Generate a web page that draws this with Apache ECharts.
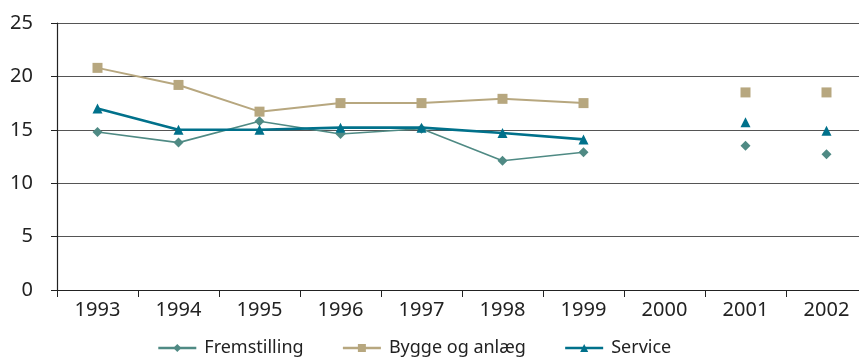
<!DOCTYPE html>
<html>
<head>
<meta charset="utf-8">
<script src="https://cdn.jsdelivr.net/npm/echarts@6/dist/echarts.min.js"></script>
<style>
  html, body { margin: 0; padding: 0; background: #fff; overflow: hidden; }
  /* the plot area runs slightly past the right edge of the page */
  #chart { width: 867px; height: 359px; }
</style>
</head>
<body>
<div id="chart"></div>
<script>
// Years on the category axis
const years = ['1993', '1994', '1995', '1996', '1997', '1998', '1999', '2000', '2001', '2002'];

// Connected yearly values 1993-1999 (2000 has no data)
const fremstilling = [14.8, 13.8, 15.8, 14.6, 15.1, 12.1, 12.9, null, null, null];
const byggeOgAnlaeg = [20.8, 19.2, 16.7, 17.5, 17.5, 17.9, 17.5, null, null, null];
const service = [17.0, 15.0, 15.0, 15.2, 15.2, 14.7, 14.1, null, null, null];

// Stand-alone values for 2001 and 2002
const fremstillingLate = [13.5, 12.7];
const byggeLate = [18.5, 18.5];
const serviceLate = [15.7, 14.9];
const lateYears = ['2001', '2002'];

const yTicks = [0, 5, 10, 15, 20, 25];

const FONT = 'Noto Sans';
const C_FREM = '#4f8a84';
const C_BYGGE = '#b7a77f';
const C_SERV = '#00718b';

const chart = echarts.init(document.getElementById('chart'), null, { renderer: 'canvas' });

function lateSeries(name, values, symbol, size, color) {
  return {
    name: name,
    type: 'scatter',
    data: lateYears.map((y, i) => [y, values[i]]),
    symbol: symbol,
    symbolSize: size,
    itemStyle: { color: color, opacity: 1 },
    z: 3
  };
}

chart.setOption({
  animation: false,
  textStyle: { fontFamily: FONT },
  grid: { left: 57, right: 0, top: 23, bottom: 69 },
  legend: {
    left: 152,
    top: 334,
    itemWidth: 38,
    itemHeight: 10,
    itemGap: 38,
    lineStyle: { width: 2.6 },
    textStyle: { fontFamily: FONT, fontSize: 18, color: '#222', padding: [0, 0, 0, 3] },
    data: ['Fremstilling', 'Bygge og anlæg', 'Service']
  },
  xAxis: {
    type: 'category',
    data: years,
    boundaryGap: true,
    axisLine: { lineStyle: { color: '#222', width: 1.2 } },
    axisTick: { show: true, length: 7, lineStyle: { color: '#222' } },
    axisLabel: { fontFamily: FONT, fontSize: 20, color: '#222', margin: 10 }
  },
  yAxis: {
    type: 'value',
    min: yTicks[0],
    max: yTicks[yTicks.length - 1],
    interval: 5,
    axisLine: { show: true, lineStyle: { color: '#222', width: 1.2 } },
    axisTick: { show: true, length: 6, lineStyle: { color: '#222' } },
    axisLabel: { fontFamily: FONT, fontSize: 20, color: '#222', margin: 24 },
    splitLine: { lineStyle: { color: '#555', width: 1 } }
  },
  series: [
    {
      name: 'Fremstilling',
      type: 'line',
      data: fremstilling,
      symbol: 'diamond',
      symbolSize: 10,
      connectNulls: false,
      lineStyle: { color: C_FREM, width: 1.6 },
      itemStyle: { color: C_FREM },
      z: 3
    },
    {
      name: 'Bygge og anlæg',
      type: 'line',
      data: byggeOgAnlaeg,
      symbol: 'rect',
      symbolSize: 10,
      connectNulls: false,
      lineStyle: { color: C_BYGGE, width: 2 },
      itemStyle: { color: C_BYGGE },
      z: 3
    },
    {
      name: 'Service',
      type: 'line',
      data: service,
      symbol: 'triangle',
      symbolSize: 10,
      connectNulls: false,
      lineStyle: { color: C_SERV, width: 2.6 },
      itemStyle: { color: C_SERV },
      z: 4
    },
    lateSeries('Fremstilling', fremstillingLate, 'diamond', 10, C_FREM),
    lateSeries('Bygge og anlæg', byggeLate, 'rect', 10, C_BYGGE),
    lateSeries('Service', serviceLate, 'triangle', 10, C_SERV)
  ]
});
</script>
</body>
</html>
